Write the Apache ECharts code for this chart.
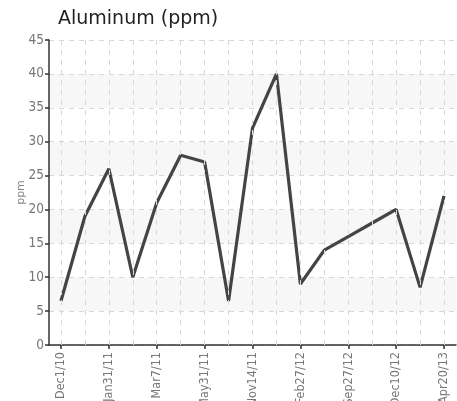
<!DOCTYPE html>
<html>
<head>
<meta charset="utf-8">
<script src="https://cdn.jsdelivr.net/npm/echarts@6/dist/echarts.min.js"></script>
<style>
html,body{margin:0;padding:0;background:#fff;}
#chart{width:457px;height:401px;}
</style>
</head>
<body>
<div id="chart"></div>
<script>
const categories = ["Dec1/10","Jan4/11","Jan31/11","Feb21/11","Mar7/11","Apr18/11","May31/11","Aug30/11","Nov14/11","Jan9/12","Feb27/12","Jun12/12","Sep27/12","Oct30/12","Dec10/12","Feb19/13","Apr20/13"];
const aluminum = [6.5,19,26,10,21,28,27,6.5,32,40,9,14,16,18,20,8.5,22];
const yTicks = [0,5,10,15,20,25,30,35,40,45];
const titleText = "Aluminum (ppm)";
const yName = "ppm";

const condensed = "'DejaVu Sans Condensed','Liberation Sans Narrow',sans-serif";
const chart = echarts.init(document.getElementById('chart'), null, {renderer:'canvas'});
chart.setOption({
  animation:false,
  backgroundColor:'#fff',
  title:{text:titleText,left:53,top:5,textStyle:{fontFamily:"'DejaVu Sans',sans-serif",fontSize:19,fontWeight:'normal',color:'#222'}},
  grid:{left:49,right:1,top:40,bottom:56,containLabel:false,outerBoundsMode:'none'},
  xAxis:{
    type:'category',data:categories,boundaryGap:true,
    axisLine:{lineStyle:{color:'#333',width:1.5}},
    axisTick:{show:true,alignWithLabel:true,interval:1,length:4,lineStyle:{color:'#333',width:1.5}},
    axisLabel:{interval:1,rotate:90,margin:7,fontFamily:condensed,fontSize:12.5,color:'#777'},
    splitLine:{show:false}
  },
  yAxis:{
    type:'value',min:yTicks[0],max:yTicks[yTicks.length-1],interval:5,
    name:yName,nameLocation:'middle',nameGap:22,nameMoveOverlap:false,
    nameTextStyle:{fontFamily:"'DejaVu Sans',sans-serif",fontSize:11,color:'#888'},
    axisLine:{show:true,lineStyle:{color:'#333',width:1.5}},
    axisTick:{show:true,length:4,lineStyle:{color:'#333',width:1.5}},
    axisLabel:{margin:5,fontFamily:condensed,fontSize:13.5,color:'#777'},
    splitLine:{show:true,lineStyle:{color:'#d8d8d8',type:[5,5],width:1}},
    splitArea:{show:true,areaStyle:{color:['#ffffff','#f7f7f7']}}
  },
  series:[
    {
      type:'line',data:categories.map(()=>null),silent:true,z:1,
      markLine:{silent:true,symbol:['none','none'],label:{show:false},
        lineStyle:{color:'#d8d8d8',type:[5,5],width:1},
        data:categories.map(c=>({xAxis:c}))}
    },
    {
      type:'line',data:aluminum,showSymbol:false,symbol:'none',z:3,
      lineStyle:{color:'#444',width:3.2},
      itemStyle:{color:'#444'}
    }
  ]
});
</script>
</body>
</html>
